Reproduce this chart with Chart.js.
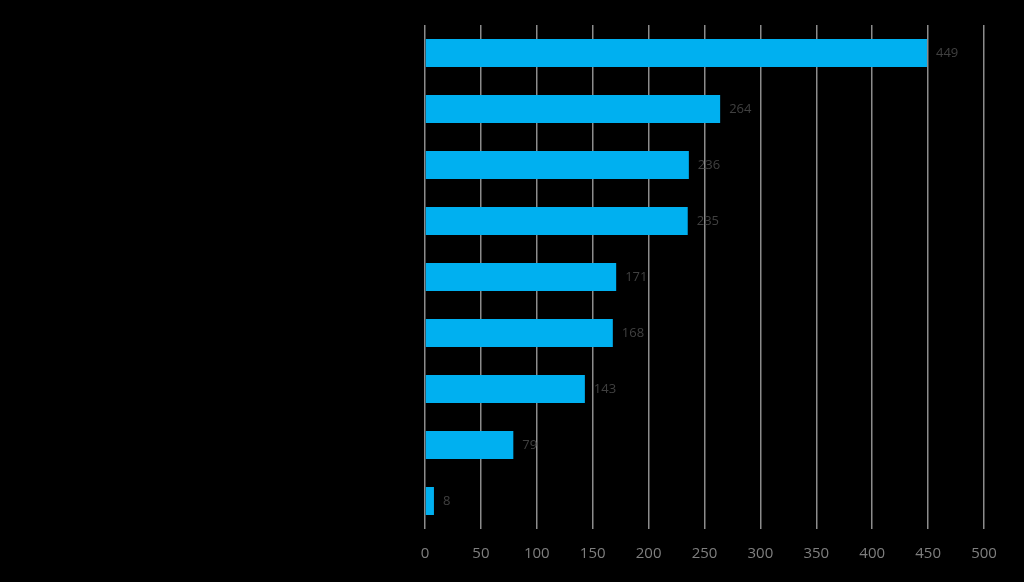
<!DOCTYPE html>
<html>
<head>
<meta charset="utf-8">
<script src="https://cdn.jsdelivr.net/npm/chart.js@4"></script>
<style>
  html, body { margin: 0; padding: 0; background: #000; }
  #wrap { width: 1024px; height: 582px; }
</style>
</head>
<body>
<div id="wrap"><canvas id="myChart"></canvas></div>
<script>
// category names are drawn black on black in the original, so they stay blank
const categories = ['', '', '', '', '', '', '', '', ''];
const values = [449, 264, 236, 235, 171, 168, 143, 79, 8];
const xTicks = [0, 50, 100, 150, 200, 250, 300, 350, 400, 450, 500];

// small plugin : value written just right of each bar
const valueLabels = {
  id: 'valueLabels',
  afterDatasetsDraw(chart) {
    const ctx = chart.ctx;
    ctx.save();
    ctx.font = '13px "Open Sans", sans-serif';
    ctx.fillStyle = '#404040';
    ctx.textBaseline = 'middle';
    ctx.textAlign = 'left';
    chart.getDatasetMeta(0).data.forEach((bar, i) => {
      ctx.fillText(String(values[i]), bar.x + 9, bar.y);
    });
    ctx.restore();
  }
};

const setup = () => {
  const ctxt = document.getElementById('myChart').getContext('2d');
  new Chart(ctxt, {
    type: 'bar',
    data: {
      labels: categories,
      datasets: [{
        data: values,
        backgroundColor: '#00b0f0',
        borderWidth: 0,
        categoryPercentage: 1,
        barPercentage: 0.5
      }]
    },
    options: {
      indexAxis: 'y',
      responsive: true,
      maintainAspectRatio: false,
      animation: false,
      layout: { padding: { left: 417, right: 40, top: 25, bottom: 3 } },
      plugins: { legend: { display: false }, tooltip: { enabled: false } },
      scales: {
        x: {
          min: 0,
          max: 500,
          afterBuildTicks: (axis) => { axis.ticks = xTicks.map(v => ({ value: v })); },
          grid: { color: '#8c8c8c', lineWidth: 1.5, drawTicks: false },
          border: { display: false },
          ticks: {
            color: '#7f7f7f',
            padding: 16,
            font: { family: '"Open Sans", sans-serif', size: 15 }
          }
        },
        y: {
          grid: { display: false },
          border: { display: false },
          ticks: { display: false }
        }
      }
    },
    plugins: [valueLabels]
  });
};

window.addEventListener('DOMContentLoaded', setup);
</script>
</body>
</html>
